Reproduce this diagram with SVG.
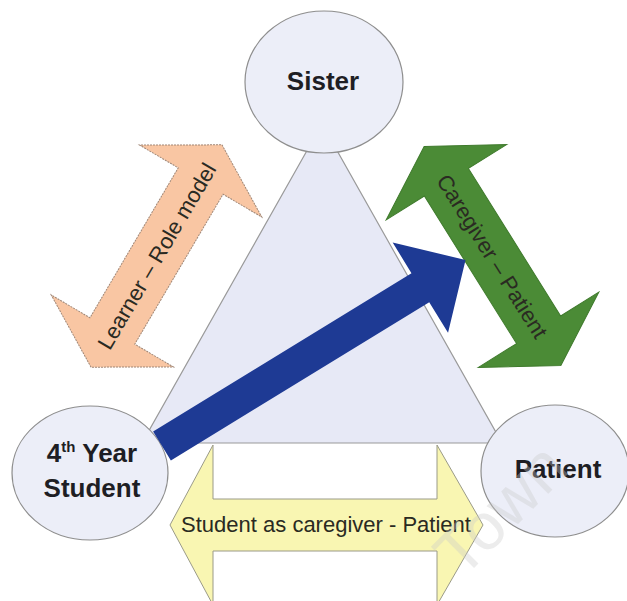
<svg xmlns="http://www.w3.org/2000/svg" width="627" height="601" viewBox="0 0 627 601">
<style>
  .node { fill: #eceef8; stroke: #8e8e8e; stroke-width: 1.2; }
  .lbl { font-family: "Liberation Sans", Arial, sans-serif; font-weight: bold; font-size: 26px; fill: #1e1e24; text-anchor: middle; }
  .alb { font-family: "Liberation Sans", Arial, sans-serif; font-size: 22px; fill: #2a2a22; text-anchor: middle; }
  .wm { font-family: "Liberation Sans", Arial, sans-serif; font-size: 66px; fill: #c8c8c8; fill-opacity: 0.35; }
</style>
<defs>
  <path id="dbl" d="M -129,0 L -87,-71 L -87,-26 L 87,-26 L 87,-71 L 129,0 L 87,71 L 87,26 L -87,26 L -87,71 Z"/>
</defs>
<rect width="627" height="601" fill="#ffffff"/>

<g id="triangle">
  <polygon points="322,124 142,443 502,443" fill="#e7e9f6" stroke="#9a9a9a" stroke-width="1.2"/>
</g>

<g id="connectors">
  <g id="learner-rolemodel" transform="translate(156.5,256) rotate(-59.5)">
    <use href="#dbl" fill="#f9c6a3" stroke="#a08878" stroke-width="1" stroke-dasharray="2 1"/>
    <text class="alb" x="0" y="8">Learner – Role model</text>
  </g>
  <g id="caregiver-patient" transform="translate(492.5,256) rotate(58)">
    <use href="#dbl" fill="#4b8b36" stroke="#3f7a2c" stroke-width="1"/>
    <text class="alb" x="0" y="8" fill="#1a2a14">Caregiver – Patient</text>
  </g>
  <g id="student-caregiver">
    <path d="M170,525 L213,445 L213,499 L437,499 L437,445 L483,525 L437,605 L437,551 L213,551 L213,605 Z" fill="#f9f6b2" stroke="#9a9a88" stroke-width="1"/>
    <text class="alb" x="326" y="532">Student as caregiver - Patient</text>
  </g>
</g>

<g id="sister">
  <ellipse class="node" cx="324" cy="82" rx="79" ry="71"/>
  <text class="lbl" x="323" y="90">Sister</text>
</g>
<g id="student">
  <ellipse class="node" cx="90" cy="473" rx="78" ry="67"/>
  <text class="lbl" x="92" y="462">4<tspan font-size="15" dy="-10">th</tspan><tspan dy="10"> Year</tspan></text>
  <text class="lbl" x="92" y="497">Student</text>
</g>
<g id="patient">
  <ellipse class="node" cx="555" cy="471" rx="74" ry="66"/>
  <text class="lbl" x="558" y="478">Patient</text>
</g>

<g id="progression">
  <path transform="translate(162,446) rotate(-31.5)" d="M0,-17 L303,-17 L303,-53 L356,0 L303,53 L303,17 L0,17 Z" fill="#1e3a94"/>
</g>

<text class="wm" transform="translate(462,580) rotate(-45)">Town</text>
</svg>
